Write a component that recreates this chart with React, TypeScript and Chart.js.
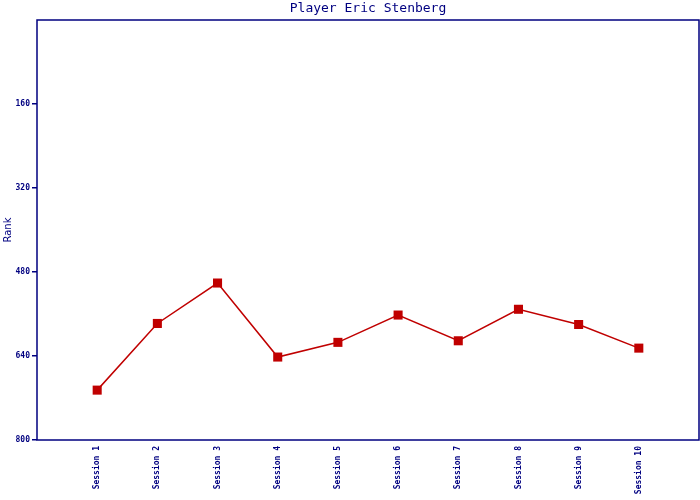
import React, { useEffect, useRef } from "react";
import { Chart, registerables } from "chart.js";

Chart.register(...registerables);

const sessions = ["Session 1", "Session 2", "Session 3", "Session 4", "Session 5", "Session 6", "Session 7", "Session 8", "Session 9", "Session 10"];
const ranks = [705, 578, 501, 642, 614, 562, 611, 551, 580, 625];
const yTicks = [160, 320, 480, 640, 800];
const titleText = "Player Eric Stenberg";
const yLabel = "Rank";

const NAVY = "#000080";
const RED = "#c00000";

const boxPlugin = {
  id: "boxPlugin",
  afterDraw(chart: any) {
    const { ctx, chartArea } = chart;
    ctx.save();
    ctx.strokeStyle = NAVY;
    ctx.lineWidth = 1.5;
    ctx.strokeRect(chartArea.left, chartArea.top, chartArea.right - chartArea.left, chartArea.bottom - chartArea.top);
    ctx.restore();
  },
};

export default function App() {
  const ref = useRef<HTMLCanvasElement>(null);
  useEffect(() => {
    if (!ref.current) return;
    const chart = new Chart(ref.current, {
      type: "line",
      data: {
        datasets: [
          {
            data: ranks.map((r, i) => ({ x: i + 1, y: r })),
            borderColor: RED,
            backgroundColor: RED,
            borderWidth: 1.5,
            pointStyle: "rect",
            pointRadius: 6.4,
            pointHoverRadius: 6.4,
            pointBorderWidth: 0,
            tension: 0,
          },
        ],
      },
      options: {
        animation: false,
        responsive: false,
        layout: { autoPadding: false, padding: { right: 1, top: 0, bottom: 0, left: 0 } },
        plugins: {
          legend: { display: false },
          tooltip: { enabled: false },
          title: {
            display: true,
            text: titleText,
            color: NAVY,
            fullSize: false,
            font: { family: "DejaVu Sans Mono", size: 13, weight: "normal" },
            padding: { top: 1, bottom: 3.4 },
          },
        },
        scales: {
          x: {
            type: "linear",
            min: 0,
            max: 11,
            afterBuildTicks(scale: any) {
              scale.ticks = sessions.map((_, i) => ({ value: i + 1 }));
            },
            afterFit(scale: any) {
              scale.height = 60;
              scale.paddingLeft = 0;
              scale.paddingRight = 0;
            },
            ticks: {
              minRotation: 90,
              maxRotation: 90,
              autoSkip: false,
              padding: 6,
              color: NAVY,
              font: { family: "DejaVu Sans Mono", size: 8, weight: "bold" },
              callback: (v: any) => sessions[Number(v) - 1] ?? "",
            },
            grid: { display: false, drawTicks: false },
            border: { display: false },
          },
          y: {
            type: "linear",
            reverse: true,
            min: 0,
            max: 800,
            afterBuildTicks(scale: any) {
              scale.ticks = yTicks.map((v) => ({ value: v }));
            },
            afterFit(scale: any) {
              scale.width = 37;
              scale.paddingTop = 0;
              scale.paddingBottom = 0;
            },
            ticks: {
              color: NAVY,
              padding: 2,
              font: { family: "DejaVu Sans Mono", size: 8, weight: "bold" },
              callback: (v: any) => String(v),
            },
            grid: {
              display: true,
              drawOnChartArea: false,
              drawTicks: true,
              tickLength: 5,
              color: NAVY,
              lineWidth: 1.5,
            },
            border: { display: false },
            title: {
              display: true,
              text: yLabel,
              color: NAVY,
              padding: { top: 2, bottom: 0 },
              font: { family: "DejaVu Sans", size: 10 },
            },
          },
        },
      },
      plugins: [boxPlugin],
    });
    return () => chart.destroy();
  }, []);
  return (
    <div style={{ position: "fixed", left: 0, top: 0, width: 700, height: 500, background: "#fff" }}>
      <canvas ref={ref} width={700} height={500} style={{ width: 700, height: 500, display: "block" }} />
    </div>
  );
}
